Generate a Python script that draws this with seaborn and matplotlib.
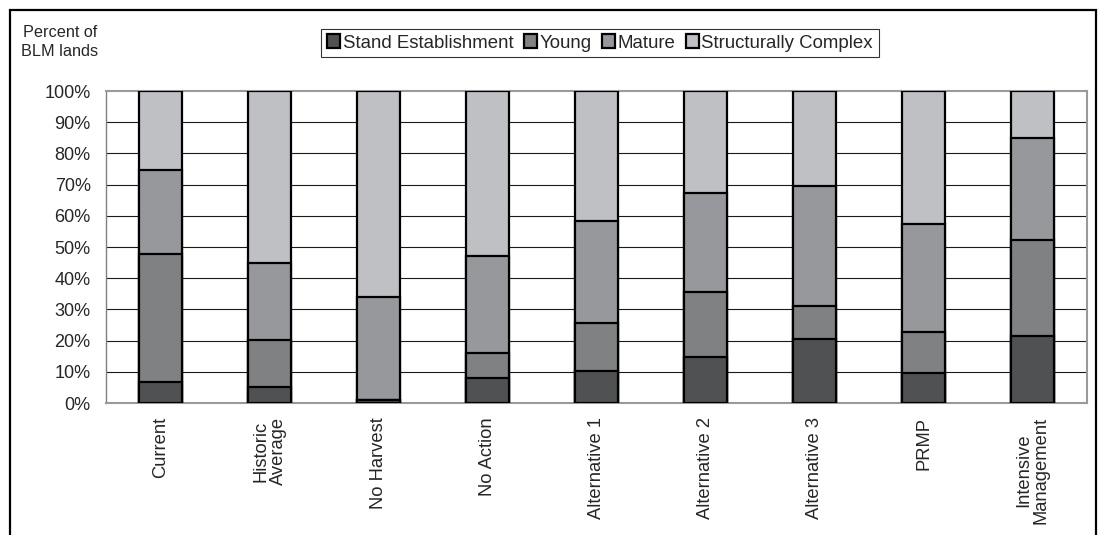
import numpy as np
import pandas as pd
import matplotlib
matplotlib.use("Agg")
import matplotlib.pyplot as plt
import matplotlib.patches as mpatches
import seaborn as sns

# Scenario categories (x axis)
categories = ["Current", "Historic\nAverage", "No Harvest", "No Action",
              "Alternative 1", "Alternative 2", "Alternative 3", "PRMP",
              "Intensive\nManagement"]

# Percent of BLM lands in each structural stage
stand_establishment = [6.8, 5.1, 1.0, 7.9, 10.3, 14.7, 20.4, 9.7, 21.6]
young = [40.9, 15.0, 0.0, 8.1, 15.2, 20.9, 10.8, 13.2, 30.8]
mature = [27.1, 24.8, 32.9, 31.1, 32.7, 31.8, 38.5, 34.6, 32.5]
structurally_complex = [25.2, 55.1, 66.1, 52.9, 41.8, 32.6, 30.3, 42.5, 15.1]

series_names = ["Stand Establishment", "Young", "Mature", "Structurally Complex"]
series_colors = ["#505153", "#808183", "#97989c", "#bfc0c4"]

y_ticks = [0, 10, 20, 30, 40, 50, 60, 70, 80, 90, 100]

sns.set_style("white")
plt.rcParams["font.family"] = ["Liberation Sans", "DejaVu Sans"]

fig = plt.figure(figsize=(10.99, 5.35), dpi=100)
ax = fig.add_axes([106 / 1099, 1 - 403 / 535, (1087 - 106) / 1099, (403 - 91) / 535])

df = pd.DataFrame({
    "category": categories,
    "se": stand_establishment,
    "young": young,
    "mature": mature,
    "sc": structurally_complex,
})
stack = df[["se", "young", "mature", "sc"]].cumsum(axis=1)

# Stacked bars: draw cumulative totals from the top layer down
for col, color in zip(["sc", "mature", "young", "se"], series_colors[::-1]):
    sns.barplot(data=df.assign(total=stack[col]), x="category", y="total",
                color=color, saturation=1, width=0.40, edgecolor="black",
                linewidth=1.6, ax=ax, zorder=3, errorbar=None)

ax.set_xlim(-0.5, len(categories) - 0.5)
ax.set_ylim(0, 100)
ax.set_yticks(y_ticks)
ax.set_yticklabels([f"{t}%" for t in y_ticks], fontsize=13)
ax.set_xlabel("")
ax.set_ylabel("")

# Horizontal gridlines
for t in y_ticks[1:-1]:
    ax.axhline(t, color="#1a1a1a", lw=0.8, zorder=1)

# Category labels, rotated
ax.set_xticks(range(len(categories)))
ax.set_xticklabels(categories, rotation=90, fontsize=13.2, va="top",
                   ha="center", multialignment="center", linespacing=1.0)
ax.tick_params(axis="x", which="major", length=0, pad=10)
ax.set_xticks(np.arange(-0.5, len(categories)), minor=True)
ax.tick_params(axis="x", which="minor", length=4.5, width=1, color="#808080",
               direction="out")
ax.tick_params(axis="y", which="major", length=4.5, width=1, color="#808080",
               direction="out", pad=6.5)

for side in ["top", "right", "left", "bottom"]:
    ax.spines[side].set_visible(True)
    ax.spines[side].set_color("#9a9a9a")
    ax.spines[side].set_linewidth(1.5)
ax.spines["left"].set_color("#808080")
ax.spines["left"].set_linewidth(1.0)

# Axis title in the upper-left corner
fig.text(60 / 1099, 1 - 25 / 535, "Percent of\nBLM lands", ha="center", va="top",
         fontsize=11.7, linespacing=1.3)

# Legend across the top
handles = [mpatches.Patch(facecolor=c, edgecolor="black", linewidth=1.6, label=n)
           for n, c in zip(series_names, series_colors)]
leg = fig.legend(handles=handles, loc="center", ncol=4,
                 bbox_to_anchor=(600 / 1099, 1 - 43 / 535), fontsize=13.4,
                 frameon=True, fancybox=False, handlelength=0.7,
                 handleheight=0.7, handletextpad=0.15, columnspacing=0.55,
                 borderpad=0.3, borderaxespad=0)
leg.get_frame().set_edgecolor("black")
leg.get_frame().set_linewidth(0.8)

# Outer chart frame
fig.patches.append(mpatches.Rectangle((10 / 1099, -0.05), (1096 - 10) / 1099,
                                      1.05 - 10 / 535, transform=fig.transFigure,
                                      fill=False, edgecolor="black", linewidth=1.6))

fig.savefig("out.png", dpi=100)
